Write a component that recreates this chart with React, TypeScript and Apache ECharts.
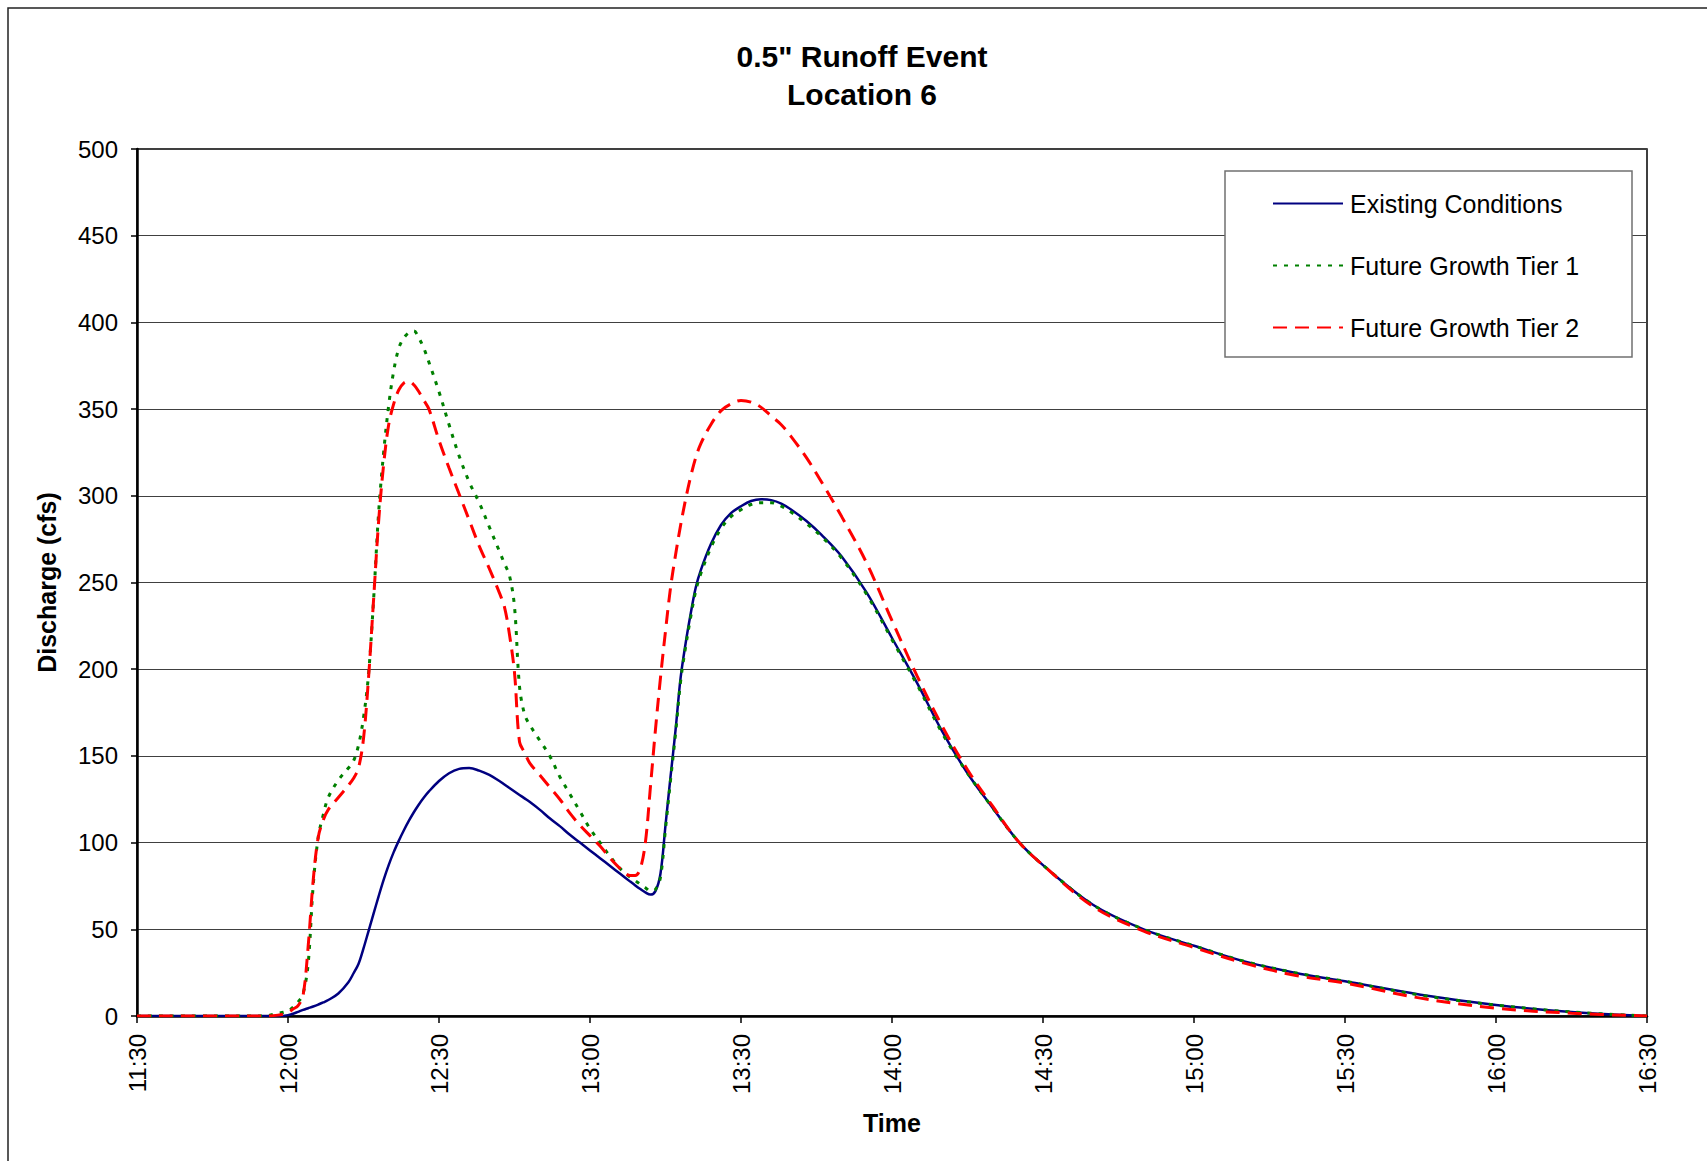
import React, { useEffect, useRef } from "react";
import * as echarts from "echarts";

// minutes after 11:30
const times = [0, 25, 28, 30, 31, 32, 33, 34, 35, 36, 37, 38, 40, 42, 43, 44, 45, 46, 47, 48, 49, 50, 51, 52, 53, 54, 55, 56, 57, 58, 60, 62, 64, 66, 68, 70, 72, 73, 74, 75, 76, 77, 78, 80, 82, 84, 86, 88, 90, 92, 94, 96, 98, 99, 100, 101, 102, 103, 104, 105, 106, 107, 108, 109, 110, 111, 112, 114, 116, 118, 120, 122, 124, 126, 128, 130, 133, 136, 140, 145, 150, 155, 160, 165, 170, 175, 180, 190, 200, 210, 220, 230, 240, 255, 270, 285, 300];

const existing = [0, 0, 0, 0.5, 1.3, 2.4, 3.5, 4.5, 5.5, 6.6, 7.8, 9.2, 13, 19.5, 24.5, 30, 39, 49, 59, 69, 78.5, 87, 94.5, 101, 107, 112.5, 117.5, 122, 126, 129.5, 135.5, 140, 142.5, 143, 141.5, 139, 135.5, 133.5, 131.5, 129.5, 127.5, 125.5, 123.5, 119, 114, 109.5, 104.5, 100, 95.5, 91, 86.5, 82, 77.5, 75.3, 73.2, 71.3, 70, 72, 82, 110, 138, 165, 195, 215, 232, 247, 257, 272, 283, 290, 294, 297, 298, 297.5, 295.5, 292, 285.5, 277.5, 265, 244, 218, 192, 164, 140, 120, 101, 87, 64, 50, 40.5, 31.5, 25, 20, 12.3, 6.4, 2.3, 0];

const tier1 = [0, 0, 1.5, 3, 5, 8, 13, 30, 75, 103, 116, 126, 136, 143, 147, 156, 172, 197, 240, 290, 325, 352, 372, 385, 391, 394, 395, 391, 385, 377, 360, 341, 323, 308, 296, 282, 268, 261, 254, 236, 190, 174, 168, 159, 150, 138, 128, 118, 108, 100, 92, 85, 80, 78, 76, 74, 72, 73, 80, 108, 136, 163, 193, 213, 230, 245, 255, 270, 281, 288, 292, 295, 296, 296, 294, 290.5, 284, 276.5, 264, 243, 217, 191, 163, 140, 120, 101, 87, 64, 50, 40.5, 31.5, 25, 20, 12, 6.3, 2.3, 0];

const tier2 = [0, 0, 0.5, 2, 4, 6, 12, 40, 78, 103, 113, 119, 126, 133, 137, 143, 160, 195, 240, 285, 318, 341, 353, 361, 365, 366, 364, 360, 355, 350, 332, 316, 301, 286, 271, 258, 244, 236, 220, 198, 158, 152, 146, 139, 132, 125, 117, 110, 104, 98, 91, 85, 81, 81, 85, 100, 132, 165, 195, 222, 247, 266, 283, 298, 311, 322, 330, 341, 349, 353, 355, 354, 351, 346, 341, 334, 322, 308, 288, 261, 228, 196, 167, 142, 121, 101, 87, 63, 49, 39.5, 30.5, 23.5, 19, 10.3, 4.5, 1.6, 0];

const xTickLabels = ["11:30", "12:00", "12:30", "13:00", "13:30", "14:00", "14:30", "15:00", "15:30", "16:00", "16:30"];
const seriesNames = ["Existing Conditions", "Future Growth Tier 1", "Future Growth Tier 2"];

const FONT = '"Liberation Sans", Arial, Helvetica, sans-serif';

export default function App() {
  const ref = useRef<HTMLDivElement>(null);

  useEffect(() => {
    if (!ref.current) return;
    const chart = echarts.init(ref.current, undefined, { renderer: "svg" });
    const zip = (vals: number[]) => times.map((t, i) => [t, vals[i]]);

    chart.setOption({
      animation: false,
      backgroundColor: "#ffffff",
      textStyle: { fontFamily: FONT },
      grid: {
        left: 137,
        top: 149,
        right: 60,
        bottom: 145,
        show: true,
        borderColor: "#000",
        borderWidth: 1.5,
        containLabel: false,
      },
      graphic: [
        {
          type: "rect",
          z: 0,
          silent: true,
          shape: { x: 8, y: 8, width: 1730, height: 1190 },
          style: { fill: "none", stroke: "#222", lineWidth: 1.5 },
        },
        {
          type: "text",
          z: 5,
          style: {
            text: '0.5" Runoff Event\nLocation 6',
            x: 862,
            y: 37,
            textAlign: "center",
            textVerticalAlign: "top",
            font: `bold 30px ${FONT}`,
            lineHeight: 38,
            fill: "#000",
          },
        },
        {
          type: "rect",
          z: 3,
          silent: true,
          shape: { x: 1225, y: 171, width: 407, height: 186 },
          style: { fill: "#fff", stroke: "#707070", lineWidth: 1.5 },
        },
      ],
      legend: {
        orient: "vertical",
        left: 1272,
        top: 191,
        itemWidth: 70,
        itemHeight: 20,
        itemGap: 37,
        padding: 0,
        z: 6,
        data: seriesNames,
        itemStyle: { opacity: 0 },
        textStyle: { fontSize: 25, color: "#000", fontFamily: FONT, padding: [0, 0, 0, 2] },
      },
      xAxis: {
        type: "value",
        min: 0,
        max: 300,
        interval: 30,
        name: "Time",
        nameLocation: "middle",
        nameGap: 94,
        nameTextStyle: { fontSize: 25, fontWeight: "bold", color: "#000", fontFamily: FONT },
        axisLine: { show: true, lineStyle: { color: "#000", width: 2.5 } },
        axisTick: { show: true, inside: false, length: 7, lineStyle: { color: "#000", width: 1.5 } },
        splitLine: { show: false },
        axisLabel: {
          rotate: 90,
          margin: 18,
          fontSize: 24,
          color: "#000",
          fontFamily: FONT,
          formatter: (v: number) => xTickLabels[Math.round(v / 30)] ?? "",
        },
      },
      yAxis: {
        type: "value",
        min: 0,
        max: 500,
        interval: 50,
        name: "Discharge (cfs)",
        nameLocation: "middle",
        nameGap: 78,
        nameTextStyle: { fontSize: 25, fontWeight: "bold", color: "#000", fontFamily: FONT },
        axisLine: { show: true, lineStyle: { color: "#000", width: 2.5 } },
        axisTick: { show: true, inside: false, length: 6, lineStyle: { color: "#000", width: 1.5 } },
        splitLine: { show: true, lineStyle: { color: "#404040", width: 1 } },
        axisLabel: { margin: 19, fontSize: 24, color: "#000", fontFamily: FONT },
      },
      series: [
        {
          name: seriesNames[0],
          type: "line",
          data: zip(existing),
          symbol: "none",
          smooth: 0.35,
          z: 3,
          lineStyle: { color: "#000080", width: 2.5, type: "solid" },
          itemStyle: { color: "#000080" },
        },
        {
          name: seriesNames[1],
          type: "line",
          data: zip(tier1),
          symbol: "none",
          smooth: 0.35,
          z: 4,
          lineStyle: { color: "#008000", width: 3, type: [4, 7] },
          itemStyle: { color: "#008000" },
        },
        {
          name: seriesNames[2],
          type: "line",
          data: zip(tier2),
          symbol: "none",
          smooth: 0.35,
          z: 5,
          lineStyle: { color: "#ff0000", width: 3, type: [14, 8] },
          itemStyle: { color: "#ff0000" },
        },
      ],
    });

    return () => chart.dispose();
  }, []);

  return (
    <div
      ref={ref}
      style={{ position: "absolute", left: 0, top: 0, width: 1707, height: 1161 }}
    />
  );
}
